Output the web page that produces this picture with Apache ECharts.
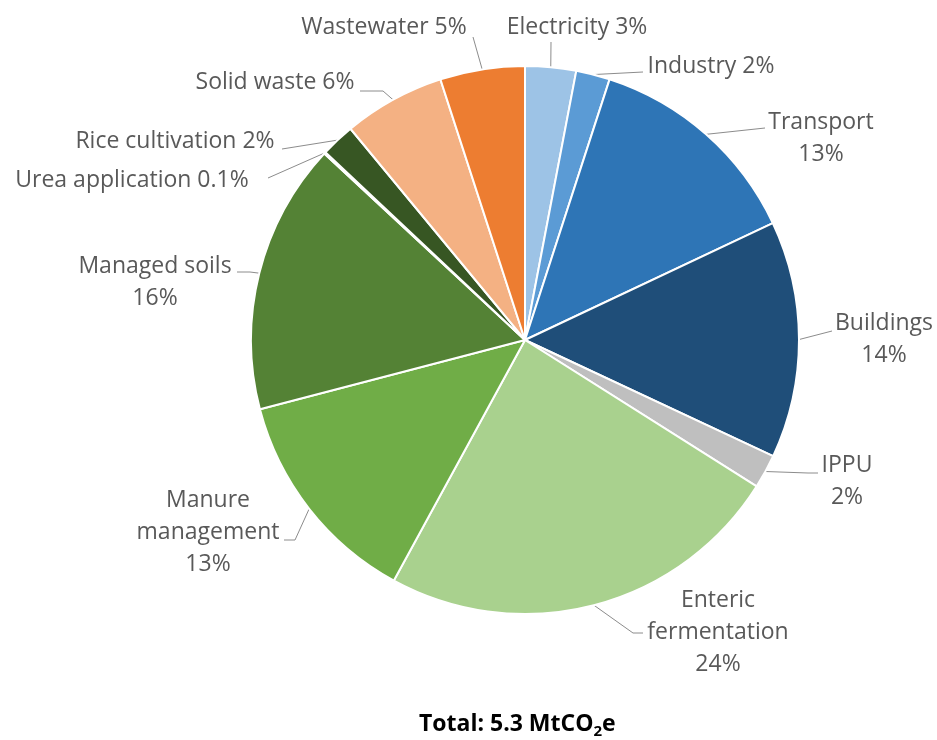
<!DOCTYPE html>
<html>
<head>
<meta charset="utf-8">
<title>Emissions by source</title>
<script src="https://cdn.jsdelivr.net/npm/echarts@6/dist/echarts.min.js"></script>
<style>
  html, body { margin: 0; padding: 0; background: #fff; }
  #chart { width: 937px; height: 740px; }
</style>
</head>
<body>
<div id="chart"></div>
<script>
// Emission sources, clockwise from 12 o'clock
const categories = ['Electricity', 'Industry', 'Transport', 'Buildings', 'IPPU',
  'Enteric fermentation', 'Manure management', 'Managed soils', 'Urea application',
  'Rice cultivation', 'Solid waste', 'Wastewater'];
// Share of total emissions (%)
const shares = [3, 2, 13, 14, 2, 24, 13, 16, 0.1, 2, 6, 5];
// How each label is broken into lines
const labelNames = ['Electricity', 'Industry', 'Transport', 'Buildings', 'IPPU',
  'Enteric\nfermentation', 'Manure\nmanagement', 'Managed soils', 'Urea application',
  'Rice cultivation', 'Solid waste', 'Wastewater'];
const labelSeparators = [' ', ' ', '\n', '\n', '\n', '\n', '\n', '\n', ' ', ' ', ' ', ' '];
const sliceColors = ['#9DC3E6', '#5B9BD5', '#2E75B6', '#1F4E79', '#BFBFBF', '#A9D18E',
  '#70AD47', '#548235', '#C5E0B4', '#375623', '#F4B183', '#ED7D31'];

// Label block centres and leader line ends [x, y, horizontal run]
const labelSpots = [[577, 27], [711, 66], [821, 138], [884, 339], [847, 481], [718, 632],
  [208, 532], [155, 282], [132, 180], [175, 141], [275, 82], [384, 27]];
const leaderEnds = [[551, 42, 0], [643, 72, 0], [765, 128, 0], [832, 331, 0], [818, 473, 10],
  [643, 633, 10], [284, 540, -11], [237, 272, -13], [268, 178, 0], [282, 149, 0],
  [360, 91, -23], [473, 37, 0]];

const CX = 525, CY = 340, R = 274;
const total = shares.reduce((a, b) => a + b, 0);

function edgePoint(i) {
  let before = 0;
  for (let k = 0; k < i; k++) before += shares[k];
  const ang = (before + shares[i] / 2) / total * 2 * Math.PI;
  return [CX + R * Math.sin(ang), CY - R * Math.cos(ang)];
}

const chart = echarts.init(document.getElementById('chart'), null, { renderer: 'canvas' });

chart.setOption({
  backgroundColor: '#ffffff',
  animation: false,
  title: {
    text: '{a|Total: 5.3 MtCO}{s|2}{a|e}',
    left: 414,
    top: 704,
    textStyle: {
      rich: {
        a: { fontFamily: 'Open Sans', fontWeight: 'bold', fontSize: 23, color: '#000', lineHeight: 30 },
        s: { fontFamily: 'Open Sans', fontWeight: 'bold', fontSize: 15, color: '#000', verticalAlign: 'bottom', lineHeight: 26 }
      }
    }
  },
  series: [{
    type: 'pie',
    center: [CX, CY],
    radius: [0, R],
    startAngle: 90,
    clockwise: true,
    avoidLabelOverlap: false,
    itemStyle: { borderColor: '#ffffff', borderWidth: 2 },
    emphasis: { disabled: true },
    label: {
      show: true,
      position: 'outside',
      color: '#595959',
      fontFamily: 'Open Sans',
      fontSize: 23,
      lineHeight: 32,
      formatter: p => labelNames[p.dataIndex] + labelSeparators[p.dataIndex] + shares[p.dataIndex] + '%'
    },
    labelLine: {
      show: true,
      length: 10,
      length2: 10,
      lineStyle: { color: '#8c8c8c', width: 1 }
    },
    labelLayout: function (params) {
      const i = params.dataIndex;
      const spot = labelSpots[i];
      const end = leaderEnds[i];
      const start = (params.labelLinePoints && params.labelLinePoints[0]) || edgePoint(i);
      const elbow = [end[0] - end[2], end[1]];
      return {
        x: spot[0],
        y: spot[1],
        align: 'center',
        verticalAlign: 'middle',
        labelLinePoints: [start.slice(), elbow, [end[0], end[1]]]
      };
    },
    data: categories.map((name, i) => ({
      name: name,
      value: shares[i],
      itemStyle: { color: sliceColors[i] }
    }))
  }]
});
</script>
</body>
</html>
